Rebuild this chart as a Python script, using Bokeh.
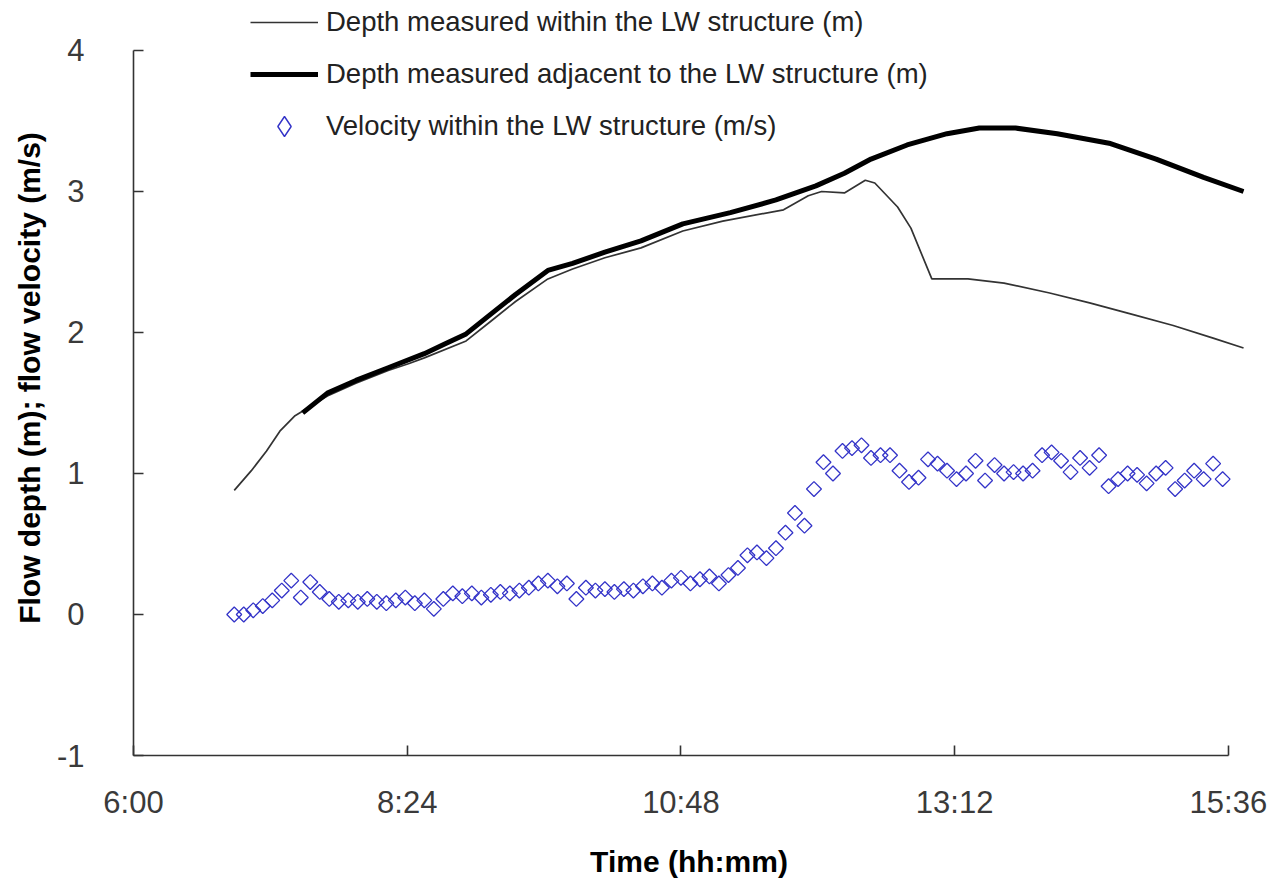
import math
from bokeh.plotting import figure
from bokeh.models import (Range1d, FixedTicker, CustomJSTickFormatter, Legend,
                          LegendItem, ColumnDataSource, Title)
from bokeh.embed import file_html
from bokeh.resources import INLINE

# ---------------- data ----------------
X_TICK_LABELS = ["6:00", "8:24", "10:48", "13:12", "15:36"]
Y_TICKS = [-1, 0, 1, 2, 3, 4]
X_TITLE = "Time (hh:mm)"
Y_TITLE = "Flow depth (m); flow velocity (m/s)"

within_time = ["6:53", "7:02", "7:10", "7:17", "7:25", "7:42", "7:57", "8:14",
               "8:25", "8:33", "8:55", "9:08", "9:21", "9:38", "9:51", "10:08",
               "10:27", "10:49", "11:10", "11:42", "11:55", "12:02", "12:14",
               "12:25", "12:30", "12:42", "12:49", "13:00", "13:19", "13:38",
               "14:02", "14:23", "14:45", "15:07", "15:28", "15:44"]
within_depth = [0.88, 1.02, 1.16, 1.30, 1.41, 1.55, 1.64, 1.73,
                1.78, 1.82, 1.94, 2.08, 2.22, 2.38, 2.45, 2.53,
                2.60, 2.72, 2.79, 2.87, 2.97, 3.00, 2.99,
                3.08, 3.06, 2.89, 2.74, 2.38, 2.38, 2.35,
                2.28, 2.21, 2.13, 2.05, 1.96, 1.89]

adjacent_time = ["7:29", "7:42", "7:57", "8:14", "8:33", "8:44", "8:55", "9:08",
                 "9:21", "9:38", "9:51", "10:08", "10:27", "10:49", "11:14",
                 "11:38", "11:59", "12:14", "12:28", "12:47", "13:08", "13:25",
                 "13:44", "14:06", "14:34", "14:58", "15:23", "15:44"]
adjacent_depth = [1.43, 1.57, 1.66, 1.75, 1.85, 1.92, 1.99, 2.13,
                  2.27, 2.44, 2.49, 2.57, 2.65, 2.77, 2.85,
                  2.94, 3.04, 3.13, 3.23, 3.33, 3.41, 3.45,
                  3.45, 3.41, 3.34, 3.23, 3.10, 3.00]

velocity_time = ["6:53", "6:58", "7:03", "7:08", "7:13", "7:18", "7:23", "7:28", "7:33", "7:38",
                 "7:43", "7:48", "7:53", "7:58", "8:03", "8:08", "8:13", "8:18", "8:23", "8:28",
                 "8:33", "8:38", "8:43", "8:48", "8:53", "8:58", "9:03", "9:08", "9:13", "9:18",
                 "9:23", "9:28", "9:33", "9:38", "9:43", "9:48", "9:53", "9:58", "10:03", "10:08",
                 "10:13", "10:18", "10:23", "10:28", "10:33", "10:38", "10:43", "10:48", "10:53", "10:58",
                 "11:03", "11:08", "11:13", "11:18", "11:23", "11:28", "11:33", "11:38", "11:43", "11:48",
                 "11:53", "11:58", "12:03", "12:08", "12:13", "12:18", "12:23", "12:28", "12:33", "12:38",
                 "12:43", "12:48", "12:53", "12:58", "13:03", "13:08", "13:13", "13:18", "13:23", "13:28",
                 "13:33", "13:38", "13:43", "13:48", "13:53", "13:58", "14:03", "14:08", "14:13", "14:18",
                 "14:23", "14:28", "14:33", "14:38", "14:43", "14:48", "14:53", "14:58", "15:03", "15:08",
                 "15:13", "15:18", "15:23", "15:28", "15:33"]
velocity = [0.00, 0.00, 0.03, 0.06, 0.10, 0.17, 0.24, 0.12, 0.23, 0.16,
            0.11, 0.09, 0.10, 0.09, 0.11, 0.09, 0.08, 0.10, 0.12, 0.08,
            0.10, 0.04, 0.11, 0.15, 0.13, 0.15, 0.12, 0.14, 0.16, 0.15,
            0.17, 0.19, 0.22, 0.24, 0.20, 0.22, 0.11, 0.19, 0.17, 0.18,
            0.16, 0.18, 0.17, 0.20, 0.22, 0.19, 0.24, 0.26, 0.22, 0.25,
            0.27, 0.22, 0.28, 0.33, 0.42, 0.44, 0.40, 0.47, 0.58, 0.72,
            0.63, 0.89, 1.08, 1.00, 1.16, 1.18, 1.20, 1.11, 1.13, 1.13,
            1.02, 0.94, 0.97, 1.10, 1.07, 1.02, 0.96, 1.00, 1.09, 0.95,
            1.06, 1.00, 1.01, 1.00, 1.02, 1.13, 1.15, 1.09, 1.01, 1.11,
            1.04, 1.13, 0.91, 0.96, 1.00, 0.99, 0.93, 1.00, 1.04, 0.89,
            0.95, 1.02, 0.96, 1.07, 0.96]


def to_min(s):
    h, m = s.split(":")
    return int(h) * 60 + int(m)


x_ticks = [to_min(s) for s in X_TICK_LABELS]

# ---------------- figure ----------------
FONT = "Liberation Sans"
W, H = 1272, 880
BL, BR, BT, BB = 133, 28, 0, 125
p = figure(width=W, height=H, output_backend="svg", toolbar_location=None,
           x_range=Range1d(360, 944.5), y_range=Range1d(-1, 4.3546),
           min_border_left=BL, min_border_right=BR, min_border_top=BT,
           min_border_bottom=BB)
p.background_fill_color = "white"
p.border_fill_color = "white"
p.outline_line_color = None
p.xgrid.visible = False
p.ygrid.visible = False

r_within = p.line([to_min(t) for t in within_time], within_depth,
                  line_color="#333333", line_width=1.7)
r_adj = p.line([to_min(t) for t in adjacent_time], adjacent_depth,
               line_color="black", line_width=5)
src_v = ColumnDataSource(dict(x=[to_min(t) for t in velocity_time], y=velocity))
p.scatter("x", "y", source=src_v, marker="square", size=10.5,
          angle=math.pi / 4, fill_color=None, line_color="#3333c8",
          line_width=1.3)
# placeholder renderer (nothing drawn in the plot), used only for the legend symbol
r_vel_key = p.scatter(x=[float("nan")], y=[float("nan")], marker="diamond",
                      size=10, fill_color=None, line_color="#3333c8",
                      line_width=1.4)

for ax in (p.xaxis[0], p.yaxis[0]):
    ax.axis_line_color = "#333333"
    ax.axis_line_width = 1.6
    ax.major_tick_line_color = "#333333"
    ax.major_tick_line_width = 1.6
    ax.major_tick_in = 10
    ax.major_tick_out = 0
    ax.minor_tick_in = 0
    ax.minor_tick_out = 0
    ax.major_label_text_font = FONT
    ax.major_label_text_font_size = "31px"
    ax.major_label_text_color = "#3a3a3a"

xa = p.xaxis[0]
xa.ticker = FixedTicker(ticks=x_ticks)
xa.bounds = (x_ticks[0], x_ticks[-1])
xa.formatter = CustomJSTickFormatter(code="""
const h = Math.floor(tick / 60);
const m = Math.round(tick - h * 60);
return h + ':' + (m < 10 ? '0' : '') + m;
""")
xa.major_label_standoff = 29
xa.axis_label = X_TITLE
xa.axis_label_text_font = FONT
xa.axis_label_text_font_style = "bold"
xa.axis_label_text_font_size = "30px"
xa.axis_label_text_color = "black"
xa.axis_label_standoff = 22

ya = p.yaxis[0]
ya.ticker = FixedTicker(ticks=Y_TICKS)
ya.bounds = (Y_TICKS[0], Y_TICKS[-1])
ya.formatter = CustomJSTickFormatter(code="return tick.toFixed(0);")
ya.major_label_standoff = 49

p.add_layout(Title(text=Y_TITLE, align="center", offset=-17, standoff=16,
                   text_font=FONT, text_font_style="bold",
                   text_font_size="30px", text_color="black"), "left")

legend = Legend(items=[
    LegendItem(label="Depth measured within the LW structure (m)", renderers=[r_within]),
    LegendItem(label="Depth measured adjacent to the LW structure (m)", renderers=[r_adj]),
    LegendItem(label="Velocity within the LW structure (m/s)", renderers=[r_vel_key]),
], location=(117, 604), orientation="vertical")
legend.glyph_width = 68
legend.glyph_height = 50
legend.label_height = 50
legend.spacing = 2
legend.padding = 0
legend.margin = 0
legend.label_standoff = 8
legend.border_line_color = None
legend.background_fill_alpha = 0
legend.label_text_font = FONT
legend.label_text_font_size = "27.5px"
legend.label_text_color = "#222222"
p.add_layout(legend, "center")

open("out.html", "w").write(file_html(p, INLINE))
